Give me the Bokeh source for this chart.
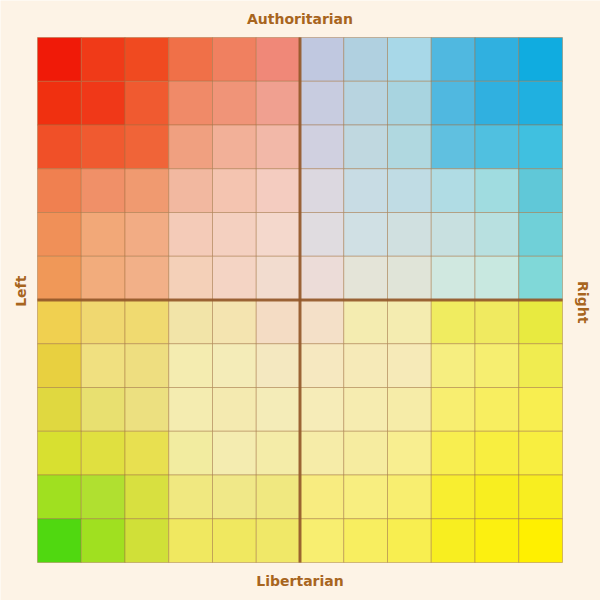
import numpy as np
from bokeh.plotting import figure
from bokeh.models import ColumnDataSource
from bokeh.core.properties import value
from bokeh.embed import file_html
from bokeh.resources import INLINE

# ---- data -------------------------------------------------------------
N = 12  # cells per side
label_top = "Authoritarian"
label_bottom = "Libertarian"
label_left = "Left"
label_right = "Right"

# colour of every cell, read row by row from the top (Authoritarian) to the
# bottom (Libertarian), each row from Left to Right
cell_colours = [
    ["#f01a08", "#f03a18", "#f04a20", "#f07048", "#f08060", "#f08878",
     "#c0c8e0", "#b0d0e0", "#a8d8e8", "#50b8e0", "#30b0e0", "#10ace0"],
    ["#f03010", "#f03818", "#f05a30", "#f08a68", "#f09478", "#f0a090",
     "#c8cce0", "#b8d4e0", "#a8d4e0", "#50b8e0", "#30b0e0", "#20b0e0"],
    ["#f05028", "#f05a30", "#f06438", "#f0a080", "#f2b098", "#f2b8a8",
     "#d0d0e0", "#c0d8e0", "#b0d8e0", "#60c0e0", "#50c0e0", "#40c0e0"],
    ["#f08050", "#f09068", "#f09a70", "#f2b8a0", "#f4c4b0", "#f4ccc0",
     "#dcd8e0", "#c8dce4", "#c0dce4", "#b0dce4", "#a0dce0", "#60c8d8"],
    ["#f09058", "#f2a878", "#f2ac84", "#f4cbb8", "#f4d0c0", "#f4d8cc",
     "#e0dce0", "#d0e0e4", "#d0e0e0", "#c8e0e0", "#b8e0e0", "#70d0d8"],
    ["#f09858", "#f2ac7c", "#f2b088", "#f4d0b8", "#f4d4c4", "#f2dccf",
     "#ecdcd8", "#e4e4d8", "#e0e4d8", "#d0e8e0", "#c8e8e0", "#80d8d8"],
    ["#f0d050", "#f0d870", "#f0da70", "#f2e4a8", "#f4e4b0", "#f4dcc4",
     "#f4e0c8", "#f4ecb0", "#f4ecb0", "#f0ec60", "#f0ea60", "#e8ea40"],
    ["#e8d040", "#f0e080", "#eede80", "#f4ecb0", "#f4ecb8", "#f4e8c0",
     "#f6e8c0", "#f6eab8", "#f6eab8", "#f6ee80", "#f6ee70", "#f0ec50"],
    ["#e0d840", "#e8e070", "#ece080", "#f4ecb0", "#f4eab0", "#f4ecb8",
     "#f6ecb8", "#f6ecb0", "#f6eca8", "#f8ee70", "#f8ee60", "#f8ee50"],
    ["#d8e030", "#e0e040", "#e8e050", "#f2eca0", "#f4ecb0", "#f4eca8",
     "#f6eca8", "#f6eca0", "#f8ee90", "#f8ee50", "#f8ee40", "#f8ee40"],
    ["#a0e020", "#b0e030", "#d8e040", "#f0e880", "#f0e888", "#f0e880",
     "#f8ec80", "#f8ee80", "#f8ee70", "#f8ee30", "#f8ee20", "#f8ee20"],
    ["#50d810", "#a0e020", "#d0e038", "#f0e860", "#f0e860", "#f0e868",
     "#f8ee70", "#f8ee60", "#f8ee50", "#f8ee20", "#fcf010", "#fff000"],
]

# ---- build cells ------------------------------------------------------
xs, ys, colors = [], [], []
for r, row in enumerate(cell_colours):
    for c, col in enumerate(row):
        xs.append(c - N / 2 + 0.5)
        ys.append(N / 2 - 0.5 - r)
        colors.append(col)

src = ColumnDataSource(dict(x=xs, y=ys, color=colors))

ppu = 525 / N
x0 = -N / 2 - 37 / ppu
x1 = N / 2 + 38 / ppu
y0 = -N / 2 - 38 / ppu
y1 = N / 2 + 37 / ppu

p = figure(width=600, height=600, output_backend="svg", toolbar_location=None,
           x_range=(x0, x1), y_range=(y0, y1), min_border=0)
p.axis.visible = False
p.grid.visible = False
p.outline_line_color = None
p.background_fill_color = "#fdf3e6"
p.border_fill_color = "#fdf3e6"

p.rect(x="x", y="y", width=1, height=1, source=src, fill_color="color",
       line_color="#a07040", line_alpha=0.45, line_width=1)

# centre axes
p.segment(x0=[0, -N / 2], y0=[-N / 2, 0], x1=[0, N / 2], y1=[N / 2, 0],
          line_color="#94592a", line_width=3, line_alpha=0.9)

tc = "#a8651e"
common = dict(text_align="center", text_baseline="middle",
              text_font=value("DejaVu Sans"), text_font_size="14px",
              text_font_style="bold", text_color=tc)
p.text(x=[0], y=[N / 2 + 19 / ppu], text=[label_top], **common)
p.text(x=[0], y=[-N / 2 - 18 / ppu], text=[label_bottom], **common)
p.text(x=[-N / 2 - 17 / ppu], y=[0.2], text=[label_left], angle=np.pi / 2, **common)
p.text(x=[N / 2 + 20 / ppu], y=[-0.05], text=[label_right], angle=-np.pi / 2, **common)

open("out.html", "w").write(file_html(p, INLINE))
